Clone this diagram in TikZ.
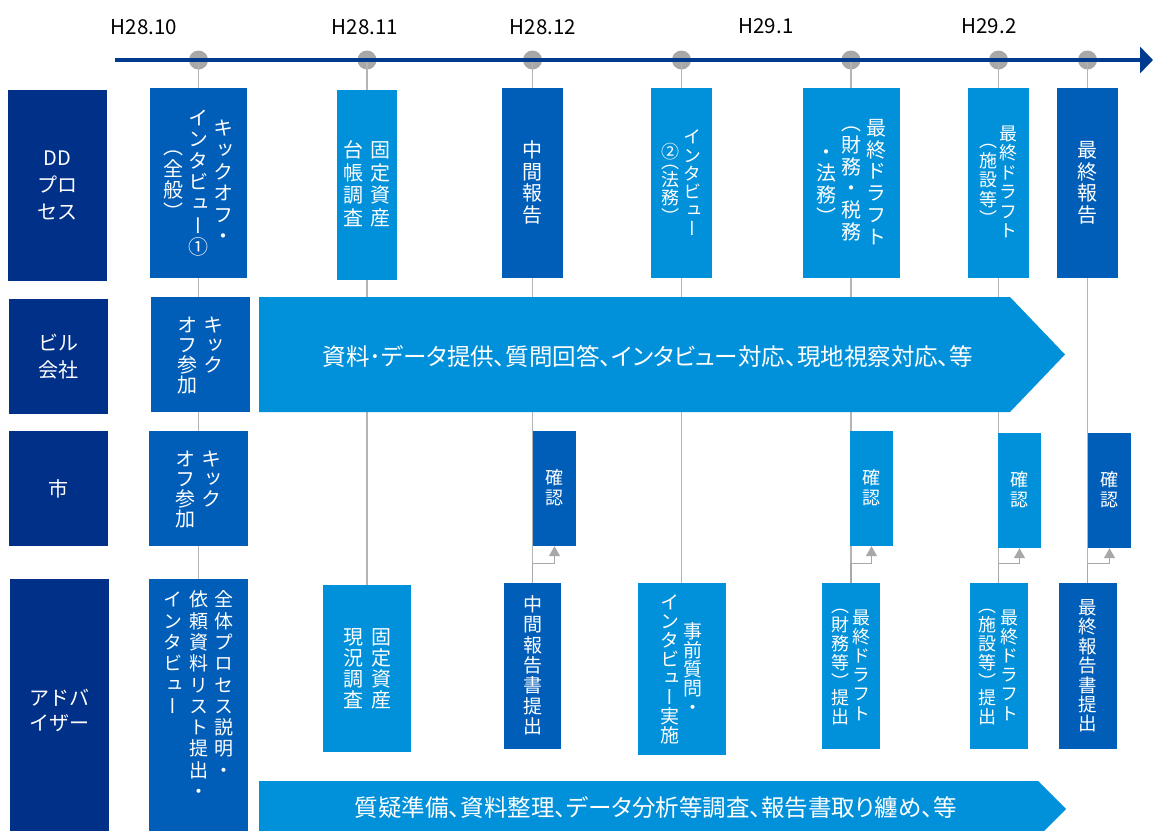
\documentclass[tikz,border=0pt]{standalone}
\usepackage{fontspec}
\setmainfont{Noto Sans CJK JP}
\newfontfamily\vjp[RawFeature=+vert]{Noto Sans CJK JP}
\newfontfamily\pjp[RawFeature=+palt]{Noto Sans CJK JP}
\usetikzlibrary{arrows.meta}
\definecolor{navy}{HTML}{003087}
\definecolor{midblue}{HTML}{005EB8}
\definecolor{lightblue}{HTML}{0091DA}
\definecolor{tlblue}{HTML}{003A8F}
\definecolor{dotgray}{HTML}{A8A8A8}
\definecolor{linegray}{HTML}{B4B4B4}
\newcommand\vtH{0.88em}
\newcommand\vtD{0.2em}
\ExplSyntaxOn
\seq_new:N \l_vt_seq
\cs_new_protected:Npn \vt_char:n #1
  {
    \str_case:nnF {#1}
      {
        {︵} { \hbox_to_wd:nn {1em} { \hss \vrule ~ height ~ 0.40em ~ depth ~ \vtD ~ width ~ 0pt \scan_stop: \smash{#1} \hss } }
        {︶} { \hbox_to_wd:nn {1em} { \hss \vrule ~ height ~ 0.46em ~ depth ~ \vtD ~ width ~ 0pt \scan_stop: \raisebox{-0.42em}{\smash{#1}} \hss } }
      }
      { \hbox_to_wd:nn {1em} { \hss \vrule ~ height ~ \vtH ~ depth ~ \vtD ~ width ~ 0pt \scan_stop: #1 \hss } }
  }
\cs_new_protected:Npn \vt_colc:n #1
  { $\vcenter{ \offinterlineskip \tl_map_function:nN {#1} \vt_char:n }$ }
\cs_new_protected:Npn \vt_colt:n #1
  { \vtop{ \offinterlineskip \tl_map_function:nN {#1} \vt_char:n } }
\NewDocumentCommand \vtc { O{0.3em} m }
  {
    \seq_set_split:Nnn \l_vt_seq { | } {#2}
    \seq_reverse:N \l_vt_seq
    \hbox:n { \vjp \seq_map_inline:Nn \l_vt_seq { \vt_colc:n {##1} \kern #1 } \unkern }
  }
\NewDocumentCommand \vtt { O{0.3em} m }
  {
    \seq_set_split:Nnn \l_vt_seq { | } {#2}
    \seq_reverse:N \l_vt_seq
    \hbox:n { \vjp \seq_map_inline:Nn \l_vt_seq { \vt_colt:n {##1} \kern #1 } \unkern }
  }
\ExplSyntaxOff
\tikzset{
  box/.style={rectangle, fill=#1, text=white, inner sep=0pt},
  vt/.style 2 args={font={\fontsize{#1}{#1}\selectfont\def\vtD{#2}}},
  rowlab/.style={rectangle, fill=navy, text=white, inner sep=0pt, minimum width=99pt, align=center, font=\fontsize{20}{27}\selectfont},
  dot/.style={circle, fill=dotgray, inner sep=0pt, minimum size=19pt},
  drop/.style={draw=linegray, line width=1.5pt},
  conn/.style={draw=dotgray, line width=1.3pt, -{Triangle[length=10pt,width=11pt]}},
  timeline/.style={draw=tlblue, line width=4pt, -{Triangle[length=13pt,width=26pt]}},
  datelab/.style={inner sep=0pt, text=black, font=\fontsize{20.5}{24}\selectfont},
  band/.style={fill=lightblue},
  bandtext/.style={text=white, inner sep=0pt, font=\pjp\fontsize{23.5}{26}\selectfont},
}
\begin{document}
\begin{tikzpicture}[x=1pt,y=-1pt]
\useasboundingbox (0,0) rectangle (1153,830);
\clip (0,0) rectangle (1153,830);
% timeline dots
\node[dot] (d1) at (198.5,60) {};
\node[dot] (d2) at (367,60) {};
\node[dot] (d3) at (532.5,60) {};
\node[dot] (d4) at (681.5,60) {};
\node[dot] (d5) at (851,60) {};
\node[dot] (d6) at (998.5,60) {};
\node[dot] (d7) at (1087.5,60) {};
% advisor row boxes
\node[box=midblue, minimum width=99pt, minimum height=262pt, anchor=north] (b1) at (198.5,579) {};
\node[text=white, inner sep=0pt, anchor=north, vt={19}{0.24em}] (b1t) at ([yshift=-11pt]b1.north) {\vtt[0.34em]{全体プロセス説明・|依頼資料リスト提出・|インタビュー}};
\node[box=lightblue, minimum width=88pt, minimum height=167pt, vt={20}{0.17em}] (b2) at (367,668.5) {\vtc[0.4em]{固定資産|現況調査}};
\node[box=midblue, minimum width=57pt, minimum height=166pt, vt={19}{0.19em}] (b3) at (532.5,666) {\vtc{中間報告書提出}};
\node[box=lightblue, minimum width=88pt, minimum height=172pt, vt={19}{0.12em}] (b4) at (681.5,669) {\vtc[0.26em]{事前質問・|インタビュー実施}};
\node[box=lightblue, minimum width=58pt, minimum height=166pt, vt={18}{0.18em}] (b5) at (851,666) {\vtc[0.22em]{最終ドラフト|︵財務等︶提出}};
\node[box=lightblue, minimum width=58pt, minimum height=166pt, vt={18}{0.18em}] (b6) at (998.5,666) {\vtc[0.22em]{最終ドラフト|︵施設等︶提出}};
\node[box=midblue, minimum width=58pt, minimum height=166pt, vt={18.5}{0.17em}] (b7) at (1087.5,666) {\vtc{最終報告書提出}};
% drop lines
\foreach \i in {1,...,7} \draw[drop] (d\i.center) -- (b\i.north);
% timeline
\coordinate (tl0) at (115,60);
\coordinate (tl1) at (1153,60);
\draw[timeline] (tl0) -- (tl1);
\node[datelab] (m1) at (144,27) {H28.10};
\node[datelab] (m2) at (365,27) {H28.11};
\node[datelab] (m3) at (543,27) {H28.12};
\node[datelab] (m4) at (766,26) {H29.1};
\node[datelab] (m5) at (989,26) {H29.2};
% DD process row
\node[rowlab, minimum height=191pt] (r1) at (57.5,185.5) {DD\\プロ\\セス};
\node[box=midblue, minimum width=97pt, minimum height=190pt, vt={20}{0.2em}] (t1) at (198.5,183) {\vtc[0.25em]{キックオフ・|インタビュー①|︵全般︶}};
\node[box=lightblue, minimum width=60pt, minimum height=190pt, vt={20}{0.24em}] (t2) at (367,185) {\vtc[0.35em]{固定資産|台帳調査}};
\node[box=midblue, minimum width=61pt, minimum height=190pt, vt={20}{0.2em}] (t3) at (532.5,183) {\vtc{中間報告}};
\node[box=lightblue, minimum width=61pt, minimum height=190pt, vt={18}{0.14em}] (t4) at (681.5,183) {\vtc[0.26em]{インタビュー|②︵法務︶}};
\node[box=lightblue, minimum width=97pt, minimum height=190pt, vt={20}{0.21em}] (t5) at (851.5,183) {\vtc[0.25em]{最終ドラフト|︵財務・税務|・法務︶}};
\node[box=lightblue, minimum width=61pt, minimum height=190pt, vt={18}{0.2em}] (t6) at (998.5,183) {\vtc[0.16em]{最終ドラフト|︵施設等︶}};
\node[box=midblue, minimum width=61pt, minimum height=190pt, vt={20}{0.2em}] (t7) at (1087.5,183) {\vtc{最終報告}};
% building company row
\node[rowlab, minimum height=115pt] (r2) at (58.5,356.5) {ビル\\会社};
\node[box=midblue, minimum width=99pt, minimum height=115pt, vt={20}{0.12em}] (k1) at (200,354.5) {\vtt[0.3em]{キック|オフ参加}};
\fill[band] (259,297) -- (1010,297) -- (1065,354.5) -- (1010,412) -- (259,412) -- cycle;
\node[bandtext] (a1) at (648,356) {資料･データ提供、質問回答、インタビュー対応、現地視察対応、等};
% city row
\node[rowlab, minimum height=115pt] (r3) at (58.5,488.5) {市};
\node[box=midblue, minimum width=99pt, minimum height=115pt, vt={20}{0.12em}] (s1) at (198.5,488.5) {\vtt[0.3em]{キック|オフ参加}};
\node[box=midblue, minimum width=43pt, minimum height=115pt, vt={18}{0.2em}] (c1) at (554.5,488.5) {\vtc{確認}};
\node[box=lightblue, minimum width=43pt, minimum height=115pt, vt={18}{0.2em}] (c2) at (871.5,488.5) {\vtc{確認}};
\node[box=lightblue, minimum width=43pt, minimum height=115pt, vt={18}{0.2em}] (c3) at (1019.5,490.5) {\vtc{確認}};
\node[box=midblue, minimum width=43pt, minimum height=115pt, vt={18}{0.2em}] (c4) at (1109.5,490.5) {\vtc{確認}};
% advisor row
\node[rowlab, minimum height=262pt, font=\fontsize{20}{25}\selectfont] (r4) at (59.5,710) {アドバ\\イザー};
\fill[band] (259,781) -- (1038,781) -- (1066,809) -- (1038,837) -- (259,837) -- cycle;
\node[bandtext] (a2) at (656,808) {質疑準備、資料整理、データ分析等調査、報告書取り纏め、等};
% confirmation connectors
\draw[conn] (b3.north) -- ++(0,-19) -| (c1.south);
\draw[conn] (b5.north) -- ++(0,-19) -| (c2.south);
\draw[conn] (b6.north) -- ++(0,-19) -| (c3.south);
\draw[conn] (b7.north) -- ++(0,-19) -| (c4.south);
\end{tikzpicture}
\end{document}
